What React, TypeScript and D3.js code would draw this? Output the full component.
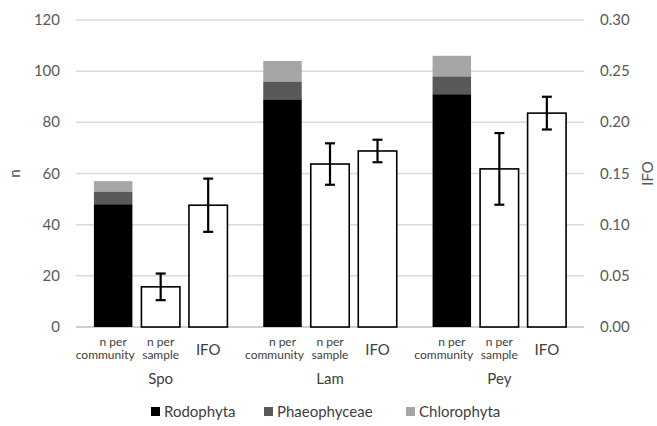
import React, { useRef, useEffect } from "react";
import * as d3 from "d3";

// sites and bar kinds
const sites = ["Spo", "Lam", "Pey"];
const barKinds = ["community", "sample", "ifo"];
const barLabels = [["n per", "community"], ["n per", "sample"], ["IFO"]];

// n per community, stacked by group
const rodophyta = [48, 89, 91];
const phaeophyceae = [5, 7, 7];
const chlorophyta = [4, 8, 8];

// n per sample (left axis) with error
const nPerSample = [15.7, 63.7, 61.8];
const nPerSampleErr = [5.2, 8.1, 14];

// IFO (right axis) with error
const ifo = [0.119, 0.172, 0.209];
const ifoErr = [0.026, 0.011, 0.016];

const nTicks = [0, 20, 40, 60, 80, 100, 120];
const ifoTicks = [0, 0.05, 0.1, 0.15, 0.2, 0.25, 0.3];

const legendNames = ["Rodophyta", "Phaeophyceae", "Chlorophyta"];
const legendColors = ["#000000", "#595959", "#a6a6a6"];

const App = () => {
  const svgRef = useRef(null);

  useEffect(() => {
    const svg = d3.select(svgRef.current);
    svg.selectAll("*").remove();

    const width = 657;
    const height = 426;
    const margin = { top: 20, right: 73, bottom: 99, left: 76 };
    const font = "Lato, 'Open Sans', sans-serif";
    const textColor = "#595959";
    const labelColor = "#404040";

    const yN = d3
      .scaleLinear()
      .domain([0, 120])
      .range([height - margin.bottom, margin.top]);

    const yIfo = d3
      .scaleLinear()
      .domain([0, 0.3])
      .range([height - margin.bottom, margin.top]);

    const xGroup = d3
      .scaleBand()
      .domain(sites)
      .range([margin.left, width - margin.right])
      .padding(0);

    const xInner = d3
      .scaleBand()
      .domain(barKinds)
      .range([0, xGroup.bandwidth()])
      .paddingInner(0.19)
      .paddingOuter(0.377);

    // 网格线
    svg
      .append("g")
      .selectAll("line")
      .data(nTicks)
      .join("line")
      .attr("x1", margin.left)
      .attr("x2", width - margin.right)
      .attr("y1", (d) => yN(d))
      .attr("y2", (d) => yN(d))
      .attr("stroke", (d) => (d === 0 ? "#bfbfbf" : "#d9d9d9"))
      .attr("stroke-width", 1.5);

    // left tick labels
    svg
      .append("g")
      .selectAll("text")
      .data(nTicks)
      .join("text")
      .attr("x", 60)
      .attr("y", (d) => yN(d) + 5)
      .attr("text-anchor", "end")
      .attr("fill", textColor)
      .style("font-family", font)
      .style("font-size", "15px")
      .text((d) => d);

    // right tick labels
    svg
      .append("g")
      .selectAll("text")
      .data(ifoTicks)
      .join("text")
      .attr("x", 600)
      .attr("y", (d) => yIfo(d) + 5)
      .attr("text-anchor", "start")
      .attr("fill", textColor)
      .style("font-family", font)
      .style("font-size", "15px")
      .text((d) => d3.format(".2f")(d));

    // axis titles
    svg
      .append("text")
      .attr("transform", `translate(20,${(yN(0) + yN(120)) / 2}) rotate(-90)`)
      .attr("text-anchor", "middle")
      .attr("fill", textColor)
      .style("font-family", font)
      .style("font-size", "15px")
      .text("n");

    svg
      .append("text")
      .attr("transform", `translate(653,${(yN(0) + yN(120)) / 2}) rotate(-90)`)
      .attr("text-anchor", "middle")
      .attr("fill", textColor)
      .style("font-family", font)
      .style("font-size", "15px")
      .text("IFO");

    const bw = xInner.bandwidth();

    sites.forEach((site, i) => {
      const g = svg.append("g").attr("transform", `translate(${xGroup(site)},0)`);

      // stacked community bar
      const stack = [rodophyta[i], phaeophyceae[i], chlorophyta[i]];
      let base = 0;
      stack.forEach((v, k) => {
        g.append("rect")
          .attr("x", xInner("community"))
          .attr("y", yN(base + v))
          .attr("width", bw)
          .attr("height", yN(base) - yN(base + v))
          .attr("fill", legendColors[k]);
        base += v;
      });

      // n per sample
      g.append("rect")
        .attr("x", xInner("sample"))
        .attr("y", yN(nPerSample[i]))
        .attr("width", bw)
        .attr("height", yN(0) - yN(nPerSample[i]))
        .attr("fill", "white")
        .attr("stroke", "black")
        .attr("stroke-width", 1.6);

      // IFO
      g.append("rect")
        .attr("x", xInner("ifo"))
        .attr("y", yIfo(ifo[i]))
        .attr("width", bw)
        .attr("height", yIfo(0) - yIfo(ifo[i]))
        .attr("fill", "white")
        .attr("stroke", "black")
        .attr("stroke-width", 1.6);

      // error bars
      const errs = [
        { cx: xInner("sample") + bw / 2, lo: yN(nPerSample[i] - nPerSampleErr[i]), hi: yN(nPerSample[i] + nPerSampleErr[i]) },
        { cx: xInner("ifo") + bw / 2, lo: yIfo(ifo[i] - ifoErr[i]), hi: yIfo(ifo[i] + ifoErr[i]) },
      ];
      errs.forEach((e) => {
        g.append("line")
          .attr("x1", e.cx).attr("x2", e.cx)
          .attr("y1", e.lo).attr("y2", e.hi)
          .attr("stroke", "black").attr("stroke-width", 2.2);
        [e.lo, e.hi].forEach((yy) => {
          g.append("line")
            .attr("x1", e.cx - 5).attr("x2", e.cx + 5)
            .attr("y1", yy).attr("y2", yy)
            .attr("stroke", "black").attr("stroke-width", 2.2);
        });
      });

      // bar labels
      barKinds.forEach((kind, k) => {
        const lines = barLabels[k];
        const cx = xInner(kind) + bw / 2;
        if (lines.length === 1) {
          g.append("text")
            .attr("x", cx)
            .attr("y", 355)
            .attr("text-anchor", "middle")
            .attr("fill", labelColor)
            .style("font-family", font)
            .style("font-size", "15px")
            .text(lines[0]);
        } else {
          lines.forEach((ln, j) => {
            // "community" sits a little left of the bar centre in the original
            const dx = ln === "community" ? -8 : 0;
            g.append("text")
              .attr("x", cx + dx)
              .attr("y", 346 + j * 13)
              .attr("text-anchor", "middle")
              .attr("fill", labelColor)
              .style("font-family", font)
              .style("font-size", "12px")
              .text(ln);
          });
        }
      });

      // site label
      g.append("text")
        .attr("x", xGroup.bandwidth() / 2)
        .attr("y", 384)
        .attr("text-anchor", "middle")
        .attr("fill", labelColor)
        .style("font-family", font)
        .style("font-size", "15px")
        .text(site);
    });

    // 图例
    const legendX = [151, 264, 406];
    legendNames.forEach((name, k) => {
      svg
        .append("rect")
        .attr("x", legendX[k])
        .attr("y", 407)
        .attr("width", 9)
        .attr("height", 9)
        .attr("fill", legendColors[k]);
      svg
        .append("text")
        .attr("x", legendX[k] + 13)
        .attr("y", 417)
        .attr("fill", labelColor)
        .style("font-family", font)
        .style("font-size", "15px")
        .text(name);
    });
  }, []);

  return (
    <svg
      ref={svgRef}
      width={657}
      height={426}
      style={{ position: "absolute", left: 0, top: 0, background: "white" }}
    ></svg>
  );
};

export default App;
